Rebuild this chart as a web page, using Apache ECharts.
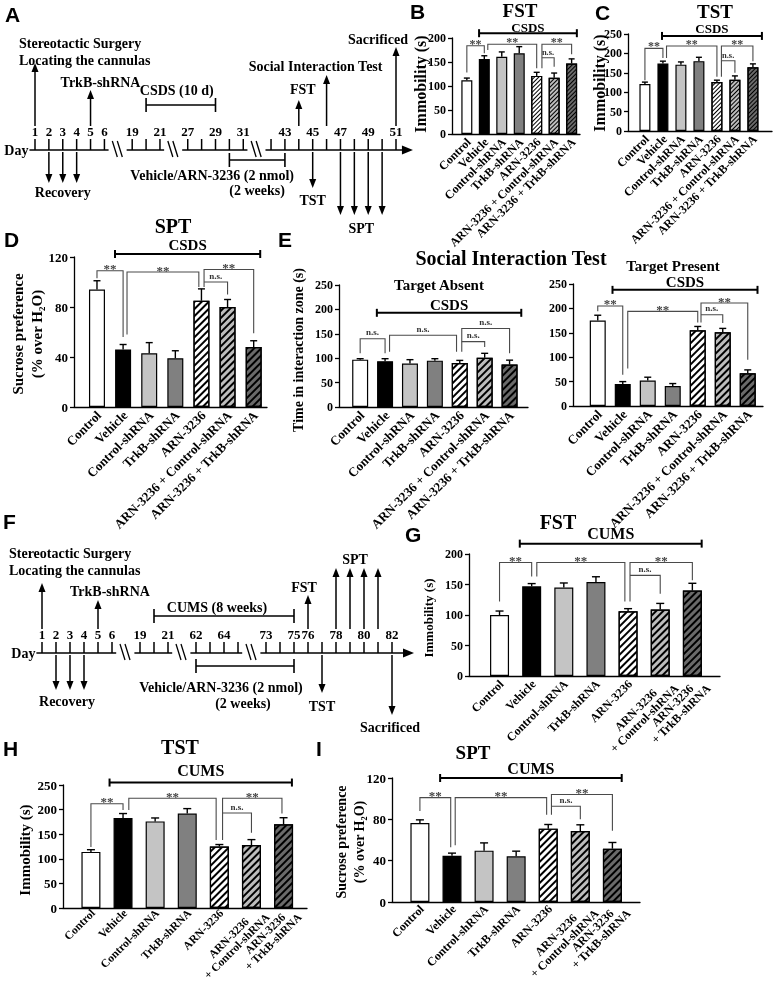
<!DOCTYPE html>
<html>
<head>
<meta charset="utf-8">
<title>ARN-3236 behavioural figure</title>
<script src="https://cdn.jsdelivr.net/npm/echarts@6.0.0/dist/echarts.min.js"></script>
<style>
html,body{margin:0;padding:0;background:#ffffff;}
#chart{width:775px;height:982px;filter:grayscale(100%);}
</style>
</head>
<body>
<div id="chart"></div>
<script>
// ================= DATA =================
const groupNames = ['Control','Vehicle','Control-shRNA','TrkB-shRNA','ARN-3236','ARN-3236 + Control-shRNA','ARN-3236 + TrkB-shRNA'];
const groupNamesWrapped = ['Control','Vehicle','Control-shRNA','TrkB-shRNA','ARN-3236','ARN-3236\n+ Control-shRNA','ARN-3236\n+ TrkB-shRNA'];

// CSDS cohort
const fstCSDS      = [112, 156, 161, 168, 121, 117, 147];
const fstCSDSErr   = [4.5, 7, 10, 14, 7.5, 10, 9.5];
const tstCSDS      = [121, 174, 171, 180, 126, 132, 164];
const tstCSDSErr   = [5, 6, 7, 10, 5, 10, 9];
const sptCSDS      = [94, 46, 43, 39, 85, 80, 48];
const sptCSDSErr   = [7, 4, 8.5, 6, 9.5, 6, 5];
const siAbsent     = [97, 94, 89, 95, 90, 101, 87];
const siAbsentErr  = [2, 5, 8, 4, 5.5, 9, 9];
const siPresent    = [175, 45, 52, 41, 155, 151, 67];
const siPresentErr = [11, 5, 7, 5, 8, 8, 7];
// CUMS cohort
const fstCUMS      = [100, 147, 145, 154, 106, 109, 140];
const fstCUMSErr   = [6.5, 4.5, 7.5, 8.7, 4.4, 10, 12];
const tstCUMS      = [114, 183, 176, 192, 125, 128, 170];
const tstCUMSErr   = [4.5, 9, 7, 10, 4, 11, 13.5];
const sptCUMS      = [76.5, 44.8, 49.7, 44.2, 71, 68.7, 51.6];
const sptCUMSErr   = [3, 2.5, 7.5, 5, 4, 6, 6];

// significance brackets: [fromX, toX, level, leftLegEnd, rightLegEnd, label]
const sigFstCSDS = [[0,1,184,128,168,'**'],[1.2,4,187,175,137,'**'],[4.3,6,187,137,166,'**'],[4.3,5,159,159,140,'n.s.']];
const sigTstCSDS = [[0,1,213,131,188,'**'],[1.2,4,219,188,140,'**'],[4.25,6,219,140,180,'**'],[4.25,5,181,181,150,'n.s.']];
const sigSptCSDS = [[0,1,109,103,56,'**'],[1.15,3.9,108,58,96,'**'],[4.1,6,110,96,59,'**'],[4.1,5,100,100,90,'n.s.']];
const sigSiAbsent = [[0,1,140,110,110,'n.s.'],[1.18,3.87,147,113,113,'n.s.'],[4.08,6,161,113,110,'n.s.'],[4.08,5,134,134,123,'n.s.']];
const sigSiPresent = [[0,1,205,194,64,'**'],[1.2,4,194,77,171,'**'],[4.13,6,211,171,95,'**'],[4.13,5,187,187,170,'n.s.']];
const sigFstCUMS = [[0,1,186,122,163,'**'],[1.16,3.9,186,163,122,'**'],[4.06,6,186,122,157,'**'],[4.06,5,165,165,135,'n.s.']];
const sigTstCUMS = [[0,1,212,124,199,'**'],[1.18,3.9,223,199,138,'**'],[4.1,5.95,223,138,192,'**'],[4.1,5,193,193,153,'n.s.']];
const sigSptCUMS = [[0,0.96,101,88,53,'**'],[1.1,3.95,101,55,84.5,'**'],[4.1,6,104,84.5,69,'**'],[4.1,5,92.6,92.6,80,'n.s.']];

// stress-group bars: [fromX, toX, level, label]
const stressFstCSDS = [0.7, 6.3, 210, 'CSDS'];
const stressTstCSDS = [0.95, 6.5, 245, 'CSDS'];
const stressSptCSDS = [0.69, 6.25, 122.4, 'CSDS'];
const stressSiAbsent = [0.67, 6.47, 193, 'CSDS'];
const stressSiPresent = [0.59, 6.39, 238, 'CSDS'];
const stressFstCUMS = [0.63, 6.29, 217, 'CUMS'];
const stressTstCUMS = [0.58, 6.26, 255, 'CUMS'];
const stressSptCUMS = [0.63, 6.29, 120, 'CUMS'];

// timelines
const csdsSegments = [[1,6],[19,21],[27,31],[42,51]];
const csdsDayLabels = [1,2,3,4,5,6,19,21,27,29,31,43,45,47,49,51];
const csdsUpEvents = [[[1],'Stereotactic Surgery\nLocating the cannulas'],[[5],'TrkB-shRNA'],[[44],'FST'],[[46],'Social Interaction Test'],[[51],'Sacrificed']];
const csdsDownEvents = [[[2,3,4],'Recovery'],[[45],'TST'],[[47,48,49,50],'SPT']];
const csdsPeriods = [[20,29,['CSDS (10 d)']],[30,43,['Vehicle/ARN-3236 (2 nmol)','(2 weeks)']]];

const cumsSegments = [[1,6],[19,21],[62,65],[73,82]];
const cumsDayLabels = [1,2,3,4,5,6,19,21,62,64,73,75,76,78,80,82];
const cumsUpEvents = [[[1],'Stereotactic Surgery\nLocating the cannulas'],[[5],'TrkB-shRNA'],[[76],'FST'],[[78,79,80,81],'SPT']];
const cumsDownEvents = [[[2,3,4],'Recovery'],[[77],'TST'],[[82],'Sacrificed']];
const cumsPeriods = [[20,75,['CUMS (8 weeks)']],[62,75,['Vehicle/ARN-3236 (2 nmol)','(2 weeks)']]];

// text labels
const panelLetters = ['A','B','C','D','E','F','G','H','I'];
const panelTitles = ['FST','TST','SPT','Social Interaction Test','Target Absent','Target Present','FST','TST','SPT'];
const yNames = ['Immobility (s)','Immobility (s)','Sucrose preference\n(% over H\u2082O)','Time in interaction zone (s)','Immobility (s)','Immobility (s)','Sucrose preference\n(% over H\u2082O)'];

// ================= STYLE / LAYOUT =================
const SERIF = "'Liberation Serif', 'Times New Roman', serif";
const SANS = "'Liberation Sans', Arial, sans-serif";
const fontB = (sz) => 'bold ' + sz + 'px ' + SERIF;
const measureCtx = document.createElement('canvas').getContext('2d');
function textWidth(s, sz){ measureCtx.font = fontB(sz); return measureCtx.measureText(s).width; }

function txt(x, y, text, sz, align, valign, fill, lh) {
  return {type:'text', silent:true, style:{legacy:false, x:x, y:y, text:text, font:fontB(sz), fill:fill||'#000',
    align:align||'center', verticalAlign:valign||'middle', lineHeight: lh || Math.round(sz*1.2)}};
}
function ln(x1,y1,x2,y2,w,c){ return {type:'line', silent:true, shape:{x1:x1,y1:y1,x2:x2,y2:y2}, style:{stroke:c||'#000', lineWidth:w||1.5, fill:null}}; }

const option = {animation:false, backgroundColor:'#ffffff', grid:[], xAxis:[], yAxis:[], series:[], graphic:{elements:[]}};

const barFills = ['#ffffff','#000000','#c4c4c4','#808080','#ffffff','#bdbdbd','#6a6a6a'];
function barStyle(i, dash){
  const s = {color:barFills[i], borderColor:'#000', borderWidth:1.2};
  if (i >= 4) s.decal = {symbol:'rect', symbolSize:1, dashArrayX:[1,0], dashArrayY:dash, rotation:-Math.PI/4, color:'#000'};
  return s;
}

function addPanel(p){
  const g = option.grid.length;
  option.grid.push(p.grid);
  option.xAxis.push({gridIndex:g, type:'value', min:p.xMin, max:p.xMax,
    axisLine:{show:true, onZero:false, lineStyle:{color:'#000', width:1.3}},
    axisTick:{show:false}, splitLine:{show:false}, axisLabel:{show:false}});
  option.yAxis.push({gridIndex:g, type:'value', min:0, max:p.yMax, interval:p.yInt,
    axisLine:{show:true, onZero:false, lineStyle:{color:'#000', width:1.3}},
    axisTick:{show:true, length:4, lineStyle:{color:'#000', width:1.3}},
    splitLine:{show:false},
    axisLabel:{color:'#000', fontFamily:SERIF, fontWeight:'bold', fontSize:p.tickSize, margin:6}});
  option.series.push({type:'bar', xAxisIndex:g, yAxisIndex:g, barWidth:p.barW, silent:true, z:2,
    data:p.vals.map((v,i)=>({value:[i,v], itemStyle:barStyle(i, p.dash)}))});
  // category labels: rotated 45 degrees, block ends under each bar, lines centred within the block
  const cats = p.cats, LH = p.labelLH || (p.labelSize + 1), LDY = (p.labelDy === undefined ? 6 : p.labelDy);
  option.series.push({type:'custom', xAxisIndex:g, yAxisIndex:g, silent:true, z:3, itemStyle:{color:'#000'},
    data:cats.map((c,i)=>[i,0]),
    renderItem:(params, api)=>{
      const q = api.coord([params.dataIndex, 0]);
      const lines = cats[params.dataIndex].split('\n');
      const n = lines.length;
      const w = Math.max.apply(null, lines.map(s=>textWidth(s, p.labelSize)));
      const P = [q[0] + 2 + 10*(n-1), q[1] + LDY];
      const h = w/2*Math.SQRT1_2;
      return {type:'text', silent:true, x:P[0]-h, y:P[1]+h, rotation:Math.PI/4,
        style:{legacy:false, x:0, y:0, text:cats[params.dataIndex], font:fontB(p.labelSize), fill:'#000',
          align:'center', verticalAlign:'middle', lineHeight:LH}};
    }});
  const errs = p.errs, cap = p.cap;
  option.series.push({type:'custom', xAxisIndex:g, yAxisIndex:g, silent:true, z:3, itemStyle:{color:'#000'},
    data:p.vals.map((v,i)=>[i, v, errs[i]]),
    renderItem:(params, api)=>{
      const x=api.value(0), v=api.value(1), e=api.value(2);
      const a=api.coord([x,v]), b=api.coord([x,v+e]);
      return {type:'group', children:[ln(a[0],a[1],b[0],b[1],1.4), ln(b[0]-cap,b[1],b[0]+cap,b[1],1.4)]};
    }});
  const sig = p.sig;
  option.series.push({type:'custom', xAxisIndex:g, yAxisIndex:g, silent:true, z:4, itemStyle:{color:'#444'},
    data:sig.map(s=>[s[0], s[2], s[1], s[3], s[4]]),
    renderItem:(params, api)=>{
      const s = sig[params.dataIndex];
      const pa=api.coord([s[0],s[3]]), pA=api.coord([s[0],s[2]]), pB=api.coord([s[1],s[2]]), pb=api.coord([s[1],s[4]]);
      const ch=[{type:'polyline', silent:true, shape:{points:[pa,pA,pB,pb]}, style:{stroke:'#4a4a4a', lineWidth:1.1, fill:null}}];
      const cx=(pA[0]+pB[0])/2;
      if (s[5]==='**') ch.push(txt(cx, pA[1]-2, '**', p.starSize||13, 'center', 'middle', '#444'));
      else ch.push(txt(cx, pA[1]-1, 'n.s.', p.nsSize||9, 'center', 'bottom', '#333'));
      return {type:'group', children:ch};
    }});
  const st = p.stress;
  option.series.push({type:'custom', xAxisIndex:g, yAxisIndex:g, silent:true, z:4, itemStyle:{color:'#000'},
    data:[[st[0], st[2], st[1]]],
    renderItem:(params, api)=>{
      const a=api.coord([st[0],st[2]]), b=api.coord([st[1],st[2]]);
      return {type:'group', children:[ln(a[0],a[1],b[0],b[1],2), ln(a[0],a[1]-4,a[0],a[1]+4,2), ln(b[0],b[1]-4,b[0],b[1]+4,2),
        txt((a[0]+b[0])/2, a[1]-p.stressDy, st[3], p.stressSize, 'center', 'middle', '#000', p.stressSize)]};
    }});
}

function slotMaker(segs, gap){
  const offs=[]; let o=0;
  segs.forEach(s=>{ offs.push(o); o += (s[1]-s[0]) + gap; });
  return (d)=>{ for (let k=0;k<segs.length;k++){ const s=segs[k]; if (d>=s[0] && d<=s[1]) return offs[k]+d-s[0]; } return NaN; };
}

function addTimeline(T){
  const g = option.grid.length;
  option.grid.push({left:T.left, top:T.lineY-50, width:T.width, height:50});
  option.xAxis.push({gridIndex:g, type:'value', min:0, max:T.maxSlot, show:false});
  option.yAxis.push({gridIndex:g, type:'value', min:0, max:1, show:false});
  const slot = slotMaker(T.segs, 2);
  const base = {type:'custom', xAxisIndex:g, yAxisIndex:g, silent:true, z:3, itemStyle:{color:'#000'}};
  const segs = T.segs;
  option.series.push(Object.assign({}, base, {data:segs.map((s,k)=>[slot(s[0]), 0, slot(s[1]), k]),
    renderItem:(params, api)=>{
      const k=params.dataIndex, s=segs[k], last=(k===segs.length-1);
      const p0=api.coord([slot(s[0])-0.4,0]), p1=api.coord([slot(s[1])+(last?T.endExt:0.3),0]);
      const yL=p0[1];
      const ch=[ln(p0[0],yL,last?p1[0]-6:p1[0],yL,1.6)];
      for (let d=s[0]; d<=s[1]; d++){ const x=api.coord([slot(d),0])[0]; ch.push(ln(x,yL-11,x,yL,1.5)); }
      if (last) ch.push({type:'polygon', silent:true, shape:{points:[[p1[0]+1,yL],[p1[0]-10,yL-4.5],[p1[0]-10,yL+4.5]]}, style:{fill:'#000'}});
      else { const xm=api.coord([slot(s[1])+1,0])[0]; ch.push(ln(xm-6,yL-9,xm-1,yL+7,1.3), ln(xm-1,yL-9,xm+4,yL+7,1.3)); }
      if (k===0) ch.push(txt(p0[0]-1, yL, 'Day', 14, 'right', 'middle'));
      return {type:'group', children:ch};
    }}));
  const dl = T.labels;
  option.series.push(Object.assign({}, base, {data:dl.map(d=>[slot(d),0]),
    renderItem:(params, api)=>{ const p=api.coord([slot(dl[params.dataIndex]),0]); return txt(p[0], p[1]-19, String(dl[params.dataIndex]), 13, 'center', 'middle'); }}));
  const up = T.up;
  option.series.push(Object.assign({}, base, {data:up.map(e=>[slot(e[0][0]),0]),
    renderItem:(params, api)=>{
      const e=up[params.dataIndex], L=T.upL[params.dataIndex];
      const xs=e[0].map(d=>api.coord([slot(d),0])[0]); const yL=api.coord([0,0])[1];
      const ch=[]; xs.forEach(x=>{ const tip=yL-L.len; ch.push(ln(x,yL-24,x,tip+8,1.5)); ch.push({type:'polygon', silent:true, shape:{points:[[x,tip],[x-3.5,tip+9],[x+3.5,tip+9]]}, style:{fill:'#000'}}); });
      const cx=(xs[0]+xs[xs.length-1])/2;
      ch.push(txt(cx+L.tx, yL+L.ty, e[1], 14, L.align||'center', 'middle', '#000', 17));
      return {type:'group', children:ch};
    }}));
  const dn = T.down;
  option.series.push(Object.assign({}, base, {data:dn.map(e=>[slot(e[0][0]),0]),
    renderItem:(params, api)=>{
      const e=dn[params.dataIndex], L=T.downL[params.dataIndex];
      const xs=e[0].map(d=>api.coord([slot(d),0])[0]); const yL=api.coord([0,0])[1];
      const ch=[]; xs.forEach(x=>{ const tip=yL+L.len; ch.push(ln(x,yL+2,x,tip-8,1.5)); ch.push({type:'polygon', silent:true, shape:{points:[[x,tip],[x-3.5,tip-9],[x+3.5,tip-9]]}, style:{fill:'#000'}}); });
      const cx=(xs[0]+xs[xs.length-1])/2;
      ch.push(txt(cx+L.tx, yL+L.ty, e[1], 14, 'center', 'middle'));
      return {type:'group', children:ch};
    }}));
  const pr = T.periods;
  option.series.push(Object.assign({}, base, {data:pr.map(e=>[slot(e[0]),0,slot(e[1])]),
    renderItem:(params, api)=>{
      const e=pr[params.dataIndex], L=T.periodL[params.dataIndex];
      const a=api.coord([slot(e[0]),0]), b=api.coord([slot(e[1]),0]); const y=a[1]+L.dy;
      const ch=[ln(a[0],y,b[0],y,1.6), ln(a[0],y-7,a[0],y+7,1.6), ln(b[0],y-7,b[0],y+7,1.6)];
      const cx=(a[0]+b[0])/2;
      e[2].forEach((t,i)=>{ ch.push(txt(cx+L.lines[i][0], a[1]+L.lines[i][1], t, 14, 'center', 'middle')); });
      return {type:'group', children:ch};
    }}));
}

// ---------- timelines ----------
addTimeline({segs:csdsSegments, labels:csdsDayLabels, up:csdsUpEvents, down:csdsDownEvents, periods:csdsPeriods,
  left:35, width:361, lineY:150, maxSlot:26, endExt:1.15,
  upL:[{len:87,tx:-16,ty:-98,align:'left'},{len:60,tx:10,ty:-68},{len:50,tx:4,ty:-61},{len:75,tx:-11,ty:-84},{len:103,tx:-18,ty:-111}],
  downL:[{len:33,tx:0,ty:42},{len:38,tx:0,ty:50},{len:65,tx:0,ty:78}],
  periodL:[{dy:-45, lines:[[-4,-60]]},{dy:10, lines:[[-45,25],[0,40]]}]});
addTimeline({segs:cumsSegments, labels:cumsDayLabels, up:cumsUpEvents, down:cumsDownEvents, periods:cumsPeriods,
  left:42, width:350, lineY:653, maxSlot:25, endExt:1.5,
  upL:[{len:70,tx:-33,ty:-91,align:'left'},{len:53,tx:12,ty:-62},{len:58,tx:-4,ty:-66},{len:85,tx:-2,ty:-94}],
  downL:[{len:37,tx:-3,ty:48},{len:40,tx:0,ty:53},{len:62,tx:-2,ty:74}],
  periodL:[{dy:-37, lines:[[-7,-46]]},{dy:13, lines:[[-24,34],[-2,50]]}]});

// ---------- bar panels ----------
addPanel({vals:fstCSDS, errs:fstCSDSErr, cats:groupNames, sig:sigFstCSDS, stress:stressFstCSDS,
  grid:{left:452, top:38, width:128, height:96}, xMin:-0.85, xMax:6.48, yMax:200, yInt:50, barW:11, cap:3,
  dash:[1,2], labelSize:12, tickSize:12, stressDy:6, stressSize:13, starSize:12, nsSize:8.5});
addPanel({vals:tstCSDS, errs:tstCSDSErr, cats:groupNames, sig:sigTstCSDS, stress:stressTstCSDS,
  grid:{left:628, top:34, width:144, height:97}, xMin:-0.94, xMax:7.06, yMax:250, yInt:50, barW:11, cap:3,
  dash:[1,2], labelSize:12, tickSize:12, stressDy:7, stressSize:13, starSize:12, nsSize:8.5});
addPanel({vals:sptCSDS, errs:sptCSDSErr, cats:groupNames, sig:sigSptCSDS, stress:stressSptCSDS,
  grid:{left:74, top:257, width:193, height:150}, xMin:-0.88, xMax:6.51, yMax:120, yInt:40, barW:16, cap:3.5,
  dash:[1.5,2.5], labelSize:13, tickSize:13, stressDy:9, stressSize:15, starSize:13, nsSize:9});
addPanel({vals:siAbsent, errs:siAbsentErr, cats:groupNames, sig:sigSiAbsent, stress:stressSiAbsent,
  grid:{left:339, top:285, width:189, height:122}, xMin:-0.85, xMax:6.74, yMax:250, yInt:50, barW:16, cap:3.5,
  dash:[1.5,2.5], labelSize:13, tickSize:12, stressDy:8, stressSize:15, starSize:13, nsSize:9});
addPanel({vals:siPresent, errs:siPresentErr, cats:groupNames, sig:sigSiPresent, stress:stressSiPresent,
  grid:{left:573, top:284, width:190, height:122}, xMin:-0.99, xMax:6.61, yMax:250, yInt:50, barW:16, cap:3.5,
  dash:[1.5,2.5], labelSize:13, tickSize:12, stressDy:8, stressSize:15, starSize:13, nsSize:9});
addPanel({vals:fstCUMS, errs:fstCUMSErr, cats:groupNamesWrapped, sig:sigFstCUMS, stress:stressFstCUMS,
  grid:{left:469, top:554, width:251, height:122}, xMin:-0.95, xMax:6.86, yMax:200, yInt:50, barW:19, cap:4,
  dash:[2,3], labelSize:12, labelLH:12, tickSize:12, stressDy:10, stressSize:16, starSize:13, nsSize:9});
addPanel({vals:tstCUMS, errs:tstCUMSErr, cats:groupNamesWrapped, sig:sigTstCUMS, stress:stressTstCUMS,
  grid:{left:63, top:785, width:244, height:123}, xMin:-0.87, xMax:6.73, yMax:250, yInt:50, barW:19, cap:4,
  dash:[2,3], labelSize:11.5, labelLH:11.5, labelDy:3, tickSize:13, stressDy:12, stressSize:16, starSize:13, nsSize:9});
addPanel({vals:sptCUMS, errs:sptCUMSErr, cats:groupNamesWrapped, sig:sigSptCUMS, stress:stressSptCUMS,
  grid:{left:392, top:778, width:248, height:124}, xMin:-0.87, xMax:6.86, yMax:120, yInt:40, barW:19, cap:4,
  dash:[2,3], labelSize:12, labelLH:12, labelDy:5, tickSize:13, stressDy:10, stressSize:16, starSize:13, nsSize:9});

// ---------- letters, titles, axis names ----------
const letterPos = [[5,4],[410,1],[595,2],[4,229],[278,229],[3,511],[405,524],[3,738],[316,738]];
panelLetters.forEach((l,i)=>{
  option.graphic.elements.push({type:'text', x:letterPos[i][0], y:letterPos[i][1], silent:true,
    style:{legacy:false, x:0, y:0, text:l, font:'bold 21px ' + SANS, fill:'#000', align:'left', verticalAlign:'top'}});
});
const titlePos = [[520,10,19],[715,11,19],[173,226,20],[511,258,20],[439,285,15],[673,266,15],[558,522,20],[180,747,20],[473,752,19]];
panelTitles.forEach((t,i)=>{
  option.graphic.elements.push({type:'text', x:titlePos[i][0], y:titlePos[i][1], silent:true,
    style:{legacy:false, x:0, y:0, text:t, font:fontB(titlePos[i][2]), lineHeight:titlePos[i][2], fill:'#000', align:'center', verticalAlign:'middle'}});
});
// [centerX, centerY, size, lineHeight]
const yNamePos = [[420,84,16,18],[599,83,16,18],[27,334,15,19],[298,350,14,18],[428,618,13,16],[25,850,15,18],[350,842,14,18]];
yNames.forEach((t,i)=>{
  const q = yNamePos[i];
  option.graphic.elements.push({type:'text', x:q[0], y:q[1], rotation:Math.PI/2, silent:true,
    style:{legacy:false, x:0, y:0, text:t, font:fontB(q[2]), lineHeight:q[3], fill:'#000', align:'center', verticalAlign:'middle'}});
});

const chart = echarts.init(document.getElementById('chart'), null, {renderer:'svg', width:775, height:982});
chart.setOption(option);
</script>
</body>
</html>
